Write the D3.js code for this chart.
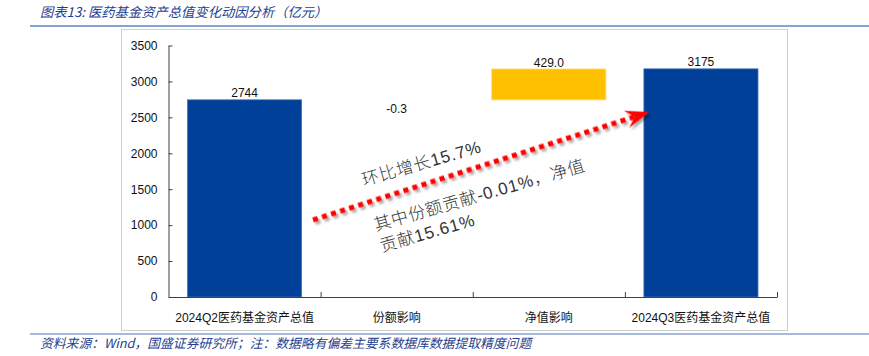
<!DOCTYPE html>
<html>
<head>
<meta charset="utf-8">
<script src="https://cdn.jsdelivr.net/npm/d3@7"></script>
<style>
  html, body { margin: 0; padding: 0; background: #ffffff; }
  svg { display: block; }
</style>
</head>
<body>
<svg id="chart" width="869" height="356"></svg>
<script>
// ---- data ----
const categories = ["2024Q2医药基金资产总值", "份额影响", "净值影响", "2024Q3医药基金资产总值"];
const values = [2744, -0.3, 429.0, 3175];
const kinds = ["total", "delta", "delta", "total"];
const valueLabels = ["2744", "-0.3", "429.0", "3175"];
const yTicks = [0, 500, 1000, 1500, 2000, 2500, 3000, 3500];
const titleText = "图表13:  医药基金资产总值变化动因分析（亿元）";
const sourceText = "资料来源：Wind，国盛证券研究所；注：数据略有偏差主要系数据库数据提取精度问题";
const noteLines = ["环比增长15.7%", "其中份额贡献-0.01%，净值", "贡献15.61%"];
// annotation anchors in data units: [category-step position, value]
const arrowFrom = [0.95, 1072];
const arrowTo = [3.16, 2574];
const noteAnchors = [[1.285, 1545], [1.364, 918], [1.404, 626]];

(function () {
// ---- build waterfall ----
let running = 0;
const bars = categories.map((c, i) => {
  let lo, hi;
  if (kinds[i] === "total") { lo = 0; hi = values[i]; running = values[i]; }
  else { const start = running; running += values[i]; lo = Math.min(start, running); hi = Math.max(start, running); }
  return { cat: c, lo, hi, kind: kinds[i], v: values[i], label: valueLabels[i] };
});

const svg = d3.select("#chart");
const pLeft = 168.5, pRight = 777, pTop = 45.5, pBottom = 297;

const x = d3.scaleBand().domain(categories).range([pLeft, pRight]).paddingInner(0.25).paddingOuter(0.125);
const xLin = d3.scaleLinear().domain([0, categories.length]).range([pLeft, pRight]);
const y = d3.scaleLinear().domain([0, 3500]).range([pBottom, pTop]);

// title & rules
svg.append("text").attr("x", 40).attr("y", 17)
  .attr("font-family", "'Noto Sans CJK SC', sans-serif").attr("font-size", 13.3)
  .attr("font-style", "italic").attr("fill", "#1f3f8f").text(titleText);
svg.append("line").attr("x1", 30).attr("x2", 869).attr("y1", 26).attr("y2", 26)
  .attr("stroke", "#87a3d0").attr("stroke-width", 2);
svg.append("line").attr("x1", 30).attr("x2", 869).attr("y1", 334).attr("y2", 334)
  .attr("stroke", "#87a3d0").attr("stroke-width", 1.5);
svg.append("text").attr("x", 40).attr("y", 348)
  .attr("font-family", "'Noto Sans CJK SC', sans-serif").attr("font-size", 12.8)
  .attr("font-style", "italic").attr("fill", "#1f3f8f").text(sourceText);

// frame
svg.append("rect").attr("x", 121.5).attr("y", 29.5).attr("width", 666).attr("height", 301)
  .attr("fill", "none").attr("stroke", "#cfcfcf").attr("stroke-width", 1);

// bars
svg.append("g").selectAll("rect").data(bars).join("rect")
  .attr("x", d => x(d.cat))
  .attr("width", x.bandwidth())
  .attr("y", d => y(d.hi))
  .attr("height", d => Math.max(0, y(d.lo) - y(d.hi)))
  .attr("fill", d => d.kind === "total" ? "#004098" : (d.v >= 0 ? "#ffc000" : "#ffffff"))
  .attr("stroke", d => d.kind === "total" ? "#4a72b8" : (d.v >= 0 ? "#ffd966" : "none"))
  .attr("stroke-width", 0.8);

// value labels
svg.append("g").selectAll("text").data(bars).join("text")
  .attr("x", d => x(d.cat) + x.bandwidth() / 2)
  .attr("y", d => d.v < 0 ? y(d.lo) + 13 : y(d.hi) - 2.5)
  .attr("text-anchor", "middle")
  .attr("font-family", "'Liberation Sans', Arial, sans-serif").attr("font-size", 12)
  .attr("fill", "#111").text(d => d.label);

// y axis
const yAxis = d3.axisLeft(y).tickValues(yTicks).tickSizeInner(-4).tickSizeOuter(0).tickPadding(11).tickFormat(d3.format("d"));
const gy = svg.append("g").attr("transform", `translate(${pLeft},0)`).call(yAxis);
gy.select(".domain").attr("stroke", "#404040");
gy.selectAll(".tick line").attr("stroke", "#404040");
gy.selectAll("text").attr("font-family", "'Liberation Sans', Arial, sans-serif").attr("font-size", 12).attr("fill", "#111");

// x axis: boundary ticks
const xTickAxis = d3.axisBottom(xLin).tickValues(d3.range(1, categories.length + 1)).tickSizeInner(-5).tickSizeOuter(0).tickFormat("");
const gx = svg.append("g").attr("transform", `translate(0,${pBottom})`).call(xTickAxis);
gx.select(".domain").attr("stroke", "#404040");
gx.selectAll(".tick line").attr("stroke", "#404040");
// x labels
const xLabAxis = d3.axisBottom(x).tickSize(0).tickPadding(16);
const gxl = svg.append("g").attr("transform", `translate(0,${pBottom})`).call(xLabAxis);
gxl.select(".domain").remove();
gxl.selectAll("text").attr("font-family", "'Liberation Sans', 'Noto Sans CJK SC', sans-serif").attr("font-size", 12).attr("fill", "#111");

// arrow with shadow
const defs = svg.append("defs");
const f = defs.append("filter").attr("id", "shadow").attr("x", "-10%").attr("y", "-30%").attr("width", "130%").attr("height", "180%");
f.append("feDropShadow").attr("dx", 1.5).attr("dy", 3).attr("stdDeviation", 1.3)
  .attr("flood-color", "#000").attr("flood-opacity", 0.35);

const x0 = xLin(arrowFrom[0]), y0 = y(arrowFrom[1]);
const x1 = xLin(arrowTo[0]), y1 = y(arrowTo[1]);
const ang = Math.atan2(y1 - y0, x1 - x0);
const len = Math.hypot(x1 - x0, y1 - y0);
const ga = svg.append("g").attr("filter", "url(#shadow)")
  .attr("transform", `translate(${x0},${y0}) rotate(${ang * 180 / Math.PI})`);
ga.append("line").attr("x1", 0).attr("y1", 0).attr("x2", len - 12).attr("y2", 0)
  .attr("stroke", "#ff0000").attr("stroke-width", 5).attr("stroke-dasharray", "5,4.5");
ga.append("path")
  .attr("d", `M${len},0 L${len - 24},-9 L${len - 15},0 L${len - 24},9 Z`)
  .attr("fill", "#ff0000");

// annotation text
svg.append("g").selectAll("text").data(noteLines).join("text")
  .attr("transform", (d, i) => `translate(${xLin(noteAnchors[i][0])},${y(noteAnchors[i][1])}) rotate(-16)`)
  .attr("font-family", "'Liberation Sans', 'Noto Sans CJK SC', sans-serif").attr("font-size", 17)
  .attr("letter-spacing", 0.8).attr("font-weight", 300)
  .attr("fill", "#333").text(d => d);
})();
</script>
</body>
</html>
